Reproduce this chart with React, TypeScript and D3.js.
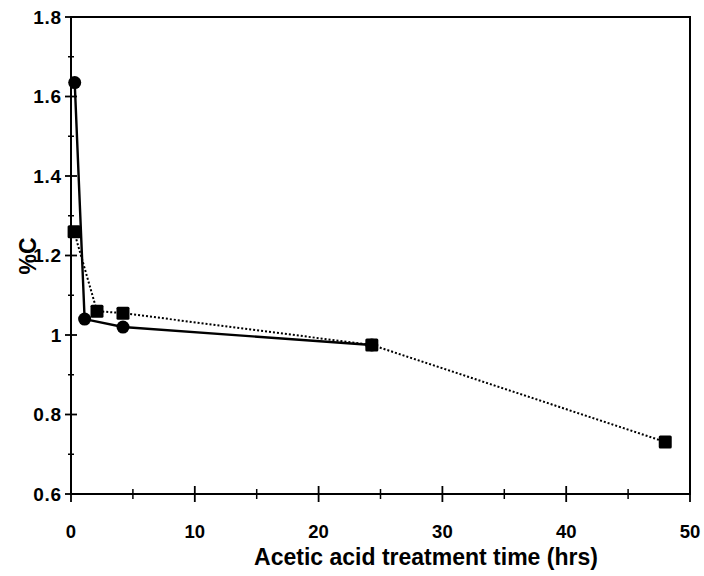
import React, { useEffect, useRef } from "react";
import * as d3 from "d3";

// Carbon content (%C) vs. acetic acid treatment time
const circleHours = [0.3, 1.1, 4.2, 24.3];
const circleCarbon = [1.635, 1.04, 1.02, 0.975];
const squareHours = [0.25, 2.1, 4.2, 24.3, 48];
const squareCarbon = [1.26, 1.06, 1.055, 0.975, 0.731];

const xTicks = [0, 10, 20, 30, 40, 50];
const yTicks = [0.6, 0.8, 1, 1.2, 1.4, 1.6, 1.8];
const yTickLabels = ["0.6", "0.8", "1", "1.2", "1.4", "1.6", "1.8"];

const W = 704;
const H = 576;
const m = { left: 71, right: 14, top: 17, bottom: 82 };

export default function App() {
  const ref = useRef<SVGSVGElement>(null);

  useEffect(() => {
    const svg = d3.select(ref.current);
    svg.selectAll("*").remove();

    const x = d3.scaleLinear().domain([0, 50]).range([m.left, W - m.right]);
    const y = d3.scaleLinear().domain([0.6, 1.8]).range([H - m.bottom, m.top]);
    const font = "Liberation Sans, Arial, sans-serif";

    // frame
    svg.append("rect")
      .attr("x", x(0)).attr("y", y(1.8))
      .attr("width", x(50) - x(0)).attr("height", y(0.6) - y(1.8))
      .attr("fill", "none").attr("stroke", "#000").attr("stroke-width", 2);

    // x ticks (major at 10, minor at 5)
    const xMinor = d3.range(5, 50, 10);
    svg.append("g").selectAll("line").data(xTicks.slice(1, -1)).join("line")
      .attr("x1", (d) => x(d)).attr("x2", (d) => x(d))
      .attr("y1", y(0.6) - 8).attr("y2", y(0.6) + 8)
      .attr("stroke", "#000").attr("stroke-width", 1.8);
    svg.append("g").selectAll("line").data(xMinor).join("line")
      .attr("x1", (d) => x(d)).attr("x2", (d) => x(d))
      .attr("y1", y(0.6) - 5).attr("y2", y(0.6) + 5)
      .attr("stroke", "#000").attr("stroke-width", 1.5);
    svg.append("g").selectAll("line").data([0, 50]).join("line")
      .attr("x1", (d) => x(d)).attr("x2", (d) => x(d))
      .attr("y1", y(0.6)).attr("y2", y(0.6) + 8)
      .attr("stroke", "#000").attr("stroke-width", 1.8);

    svg.append("g").selectAll("text").data(xTicks).join("text")
      .attr("x", (d) => x(d)).attr("y", y(0.6) + 44)
      .attr("text-anchor", "middle")
      .attr("font-family", font).attr("font-size", 18.5).attr("font-weight", "bold")
      .text((d) => String(d));

    // y ticks (major at 0.2, minor at 0.1)
    const yMinor = d3.range(0.7, 1.8, 0.2);
    svg.append("g").selectAll("line").data(yTicks).join("line")
      .attr("x1", x(0) - 6).attr("x2", x(0) + 6)
      .attr("y1", (d) => y(d)).attr("y2", (d) => y(d))
      .attr("stroke", "#000").attr("stroke-width", 1.8);
    svg.append("g").selectAll("line").data(yMinor).join("line")
      .attr("x1", x(0) - 3).attr("x2", x(0) + 3)
      .attr("y1", (d) => y(d)).attr("y2", (d) => y(d))
      .attr("stroke", "#000").attr("stroke-width", 1.5);

    svg.append("g").selectAll("text").data(yTicks).join("text")
      .attr("x", x(0) - 9).attr("y", (d) => y(d) + 6.5)
      .attr("text-anchor", "end")
      .attr("font-family", font).attr("font-size", 19).attr("font-weight", "bold")
      .attr("letter-spacing", 0.8)
      .text((_, i) => yTickLabels[i]);

    // axis titles
    svg.append("text")
      .attr("x", 426).attr("y", 565)
      .attr("text-anchor", "middle")
      .attr("font-family", font).attr("font-size", 23).attr("font-weight", "bold")
      .text("Acetic acid treatment time (hrs)");
    svg.append("text")
      .attr("transform", `translate(36, 256) rotate(-90)`)
      .attr("text-anchor", "middle")
      .attr("font-family", font).attr("font-size", 23).attr("font-weight", "bold")
      .text("%C");

    const line = d3.line<[number, number]>()
      .x((d) => x(d[0])).y((d) => y(d[1]));

    const sq: [number, number][] = squareHours.map((h, i) => [h, squareCarbon[i]]);
    const ci: [number, number][] = circleHours.map((h, i) => [h, circleCarbon[i]]);

    svg.append("path").datum(sq).attr("d", line)
      .attr("fill", "none").attr("stroke", "#000").attr("stroke-width", 2)
      .attr("stroke-dasharray", "2,2");
    svg.append("path").datum(ci).attr("d", line)
      .attr("fill", "none").attr("stroke", "#000").attr("stroke-width", 2.4);

    svg.append("g").selectAll("circle").data(ci).join("circle")
      .attr("cx", (d) => x(d[0])).attr("cy", (d) => y(d[1])).attr("r", 6.5)
      .attr("fill", "#000");
    svg.append("g").selectAll("rect").data(sq).join("rect")
      .attr("x", (d) => x(d[0]) - 6.5).attr("y", (d) => y(d[1]) - 6.5)
      .attr("width", 13).attr("height", 13).attr("rx", 1.5)
      .attr("fill", "#000");
  }, []);

  return (
    <svg
      ref={ref}
      width={W}
      height={H}
      style={{ position: "absolute", left: 0, top: 0, background: "#fff" }}
    />
  );
}
